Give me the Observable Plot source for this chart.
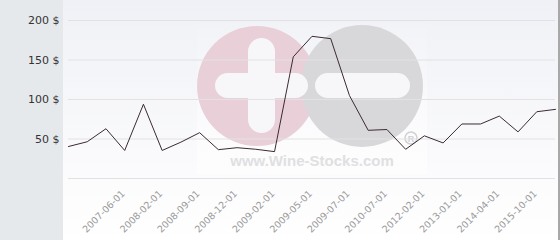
<!DOCTYPE html>
<html>
<head>
<meta charset="utf-8">
<script src="https://cdn.jsdelivr.net/npm/d3@7"></script>
<script src="https://cdn.jsdelivr.net/npm/@observablehq/plot@0.6"></script>
<style>
  html, body { margin: 0; padding: 0; background: #fff; }
  #chart { width: 560px; height: 240px; overflow: hidden; }
</style>
</head>
<body>
<div id="chart"></div>
<script>
// Price per observation (ordered), in $
const prices = [40.5, 46.5, 63, 35.5, 94, 35.5, 46, 58, 36.5, 39, 37, 34,
                154, 180, 177, 105, 61, 62, 37, 54, 45, 69, 69, 79, 59, 84.5, 87.5];
// Labelled observations (index into prices) and their dates
const tickIndex  = [3, 5, 7, 9, 11, 13, 15, 17, 19, 21, 23, 25];
const tickLabels = ["2007-06-01", "2008-02-01", "2008-09-01", "2008-12-01", "2009-02-01", "2009-05-01",
                    "2009-07-01", "2010-07-01", "2012-02-01", "2013-01-01", "2014-04-01", "2015-10-01"];
const yTicks = [50, 100, 150, 200];
const gridValues = [0, 50, 100, 150, 200];

const data = prices.map((v, i) => ({i, v}));
const labelOf = new Map(tickIndex.map((t, k) => [t, tickLabels[k]]));

const plot = Plot.plot({
  width: 560,
  height: 240,
  marginLeft: 68,
  marginRight: 5,
  marginTop: 20,
  marginBottom: 62,
  style: {background: "transparent", fontFamily: "DejaVu Sans, sans-serif", overflow: "visible"},
  x: {type: "linear", domain: [0, prices.length - 1]},
  y: {domain: [0, 200]},
  marks: [
    Plot.ruleY(gridValues, {stroke: "#e2e2e4", strokeWidth: 1}),
    Plot.axisY(yTicks, {tickSize: 0, tickPadding: 9, tickFormat: d => d + " $", fontSize: 11, fill: "#333", label: null}),
    Plot.axisX(tickIndex, {tickSize: 0, tickPadding: 0, rotate: -45, textAnchor: "end", lineAnchor: "top", dx: -4, dy: 11,
      tickFormat: d => labelOf.get(d), fontSize: 9.5, fill: "#9a9a9a", label: null}),
    Plot.line(data, {x: "i", y: "v", stroke: "#3b2a33", strokeWidth: 1})
  ]
});
document.getElementById("chart").appendChild(plot);

// background panels + watermark (decoration, beneath the marks)
const svg = d3.select(plot);
const defs = svg.insert("defs", ":first-child");
const grad = defs.append("linearGradient").attr("id", "bgGrad").attr("x1", 0).attr("y1", 0).attr("x2", 0).attr("y2", 1);
grad.append("stop").attr("offset", "0%").attr("stop-color", "#f0f1f6");
grad.append("stop").attr("offset", "100%").attr("stop-color", "#ffffff");
const wgrad = defs.append("linearGradient").attr("id", "wGrad").attr("x1", 0).attr("y1", 0).attr("x2", 0).attr("y2", 1);
wgrad.append("stop").attr("offset", "0%").attr("stop-color", "#fff").attr("stop-opacity", 0);
wgrad.append("stop").attr("offset", "100%").attr("stop-color", "#fff").attr("stop-opacity", 0.6);

const bg = svg.insert("g", "defs + *");
bg.append("rect").attr("x", 0).attr("y", 0).attr("width", 63).attr("height", 240).attr("fill", "#e6e9ec");
bg.append("rect").attr("x", 63).attr("y", 0).attr("width", 495).attr("height", 240).attr("fill", "url(#bgGrad)");
bg.append("rect").attr("x", 558).attr("y", 0).attr("width", 2).attr("height", 240).attr("fill", "#a8a8a8");
bg.append("rect").attr("x", 197).attr("y", 12).attr("width", 230).attr("height", 162).attr("fill", "url(#wGrad)");
bg.append("circle").attr("cx", 257).attr("cy", 86).attr("r", 60).attr("fill", "#e9cfd8");
bg.append("circle").attr("cx", 362).attr("cy", 86).attr("r", 61).attr("fill", "#d8d8da");
bg.append("rect").attr("x", 215).attr("y", 73).attr("width", 93).attr("height", 25).attr("rx", 12.5).attr("fill", "#f7f7f9");
bg.append("rect").attr("x", 248).attr("y", 38).attr("width", 27).attr("height", 95).attr("rx", 13.5).attr("fill", "#f7f7f9");
bg.append("rect").attr("x", 315).attr("y", 73).attr("width", 95).attr("height", 25).attr("rx", 12.5).attr("fill", "#f7f7f9");
bg.append("circle").attr("cx", 411).attr("cy", 138).attr("r", 6).attr("fill", "none").attr("stroke", "#d0d0d2").attr("stroke-width", 1.5);
bg.append("text").attr("x", 411).attr("y", 141.5).attr("text-anchor", "middle").attr("font-family", "Liberation Sans, Arial, sans-serif")
  .attr("font-weight", "bold").attr("font-size", 9).attr("fill", "#d0d0d2").text("R");
bg.append("text").attr("x", 312).attr("y", 166).attr("text-anchor", "middle").attr("font-family", "Liberation Sans, Arial, sans-serif")
  .attr("font-weight", "bold").attr("font-size", 15).attr("fill", "#e0e0e2").text("www.Wine-Stocks.com");
</script>
</body>
</html>
